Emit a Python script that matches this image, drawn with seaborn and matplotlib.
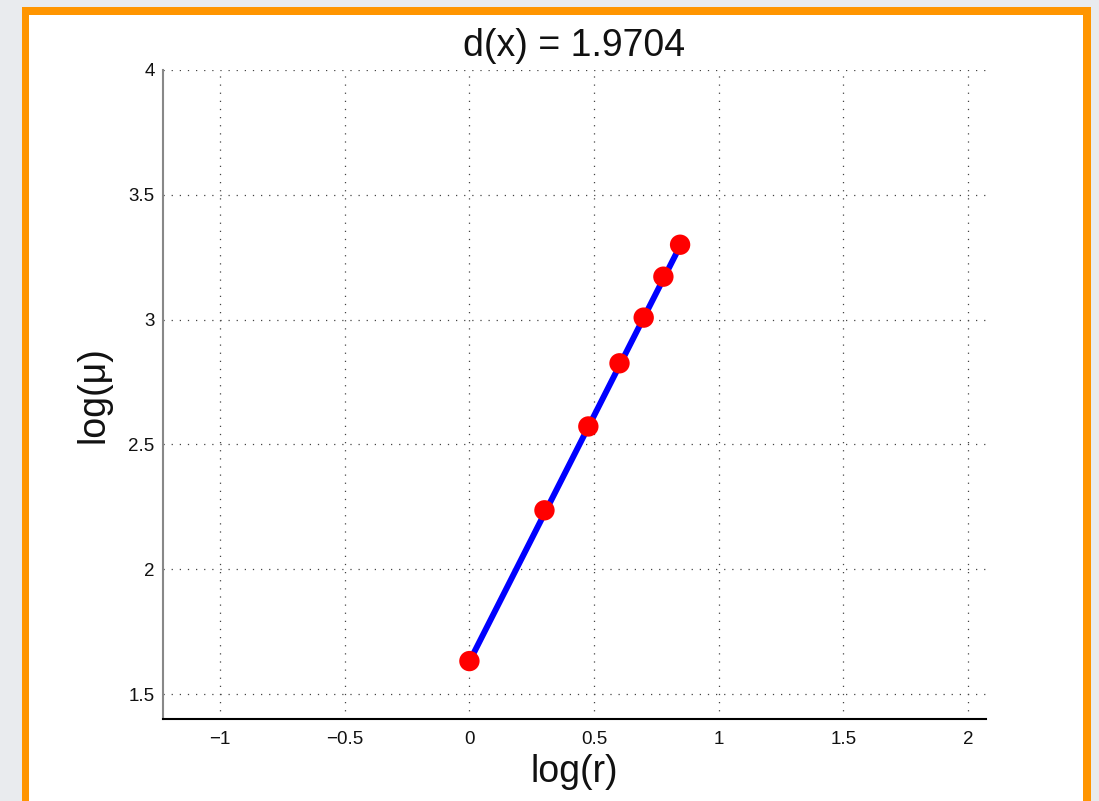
import matplotlib
matplotlib.use("Agg")
import matplotlib.pyplot as plt
from matplotlib.patches import Rectangle
import seaborn as sns
import pandas as pd

# Data
log_r = [0.0, 0.301, 0.477, 0.602, 0.699, 0.778, 0.845]
log_mu = [1.632, 2.236, 2.572, 2.825, 3.008, 3.172, 3.300]
fit_x = [0.0, 0.845]
fit_y = [1.630, 3.295]
title_text = "d(x) = 1.9704"
x_ticks = [-1, -0.5, 0, 0.5, 1, 1.5, 2]
x_tick_labels = ["\u22121", "\u22120.5", "0", "0.5", "1", "1.5", "2"]
y_ticks = [1.5, 2, 2.5, 3, 3.5, 4]
y_tick_labels = ["1.5", "2", "2.5", "3", "3.5", "4"]

sns.set_theme(style="white")
plt.rcParams["font.family"] = ["Liberation Sans", "DejaVu Sans"]

W, H = 1099, 801
fig = plt.figure(figsize=(W / 100, H / 100), dpi=100)
fig.patch.set_facecolor("#e9ebee")

# orange frame and white panel
fig.add_artist(Rectangle((22 / W, 0), (1091 - 22) / W, 1 - 7 / H,
                         transform=fig.transFigure, facecolor="#ff9500",
                         edgecolor="none", zorder=0))
fig.add_artist(Rectangle((29 / W, 0), (1083 - 29) / W, 1 - 15 / H,
                         transform=fig.transFigure, facecolor="white",
                         edgecolor="none", zorder=0))

ax = fig.add_axes([163 / W, 1 - 719 / H, (986 - 163) / W, (719 - 70) / H])
ax.set_facecolor("none")

fit_df = pd.DataFrame({"x": fit_x, "y": fit_y})
pts_df = pd.DataFrame({"x": log_r, "y": log_mu})
sns.lineplot(data=fit_df, x="x", y="y", ax=ax, color="#0000ff", linewidth=4.3,
             sort=False, zorder=3)
sns.scatterplot(data=pts_df, x="x", y="y", ax=ax, color="#ff0000", s=215,
                edgecolor="none", zorder=4)

ax.set_xlim(-1.229, 2.072)
ax.set_ylim(1.4, 4.0)
ax.set_xticks(x_ticks)
ax.set_xticklabels(x_tick_labels)
ax.set_yticks(y_ticks)
ax.set_yticklabels(y_tick_labels)

ax.grid(True, linestyle=(0, (1, 5.5)), color="#444444", linewidth=0.9)
ax.set_axisbelow(True)

for s in ["top", "right"]:
    ax.spines[s].set_visible(False)
ax.spines["left"].set_color("#888888")
ax.spines["left"].set_linewidth(1.5)
ax.spines["bottom"].set_color("#000000")
ax.spines["bottom"].set_linewidth(1.5)

ax.tick_params(axis="both", direction="in", length=7, width=1.2,
               color="#666666", labelsize=13.5, labelcolor="#111111")
ax.tick_params(axis="x", pad=9)
ax.tick_params(axis="y", pad=6)

ax.set_title(title_text, fontsize=27, pad=10, color="#111111")
ax.set_xlabel("log(r)", fontsize=27, labelpad=4, color="#111111")
ax.set_ylabel("log(\u03bc)", fontsize=27, labelpad=12, color="#111111")

fig.savefig("out.png", dpi=100, facecolor=fig.get_facecolor())
